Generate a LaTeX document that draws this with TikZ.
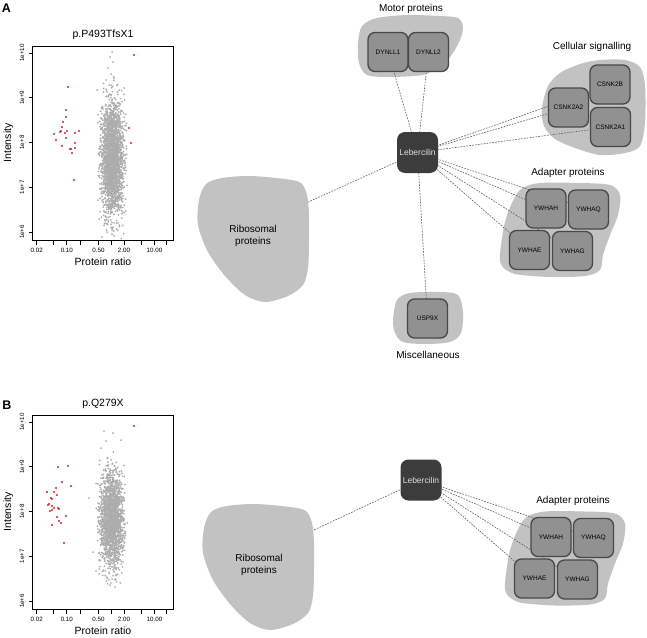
\documentclass[tikz,border=0pt]{standalone}
\usepackage{fontspec}
\setmainfont{Liberation Sans}
\pgfdeclarelayer{blobs}
\pgfdeclarelayer{edges}
\pgfsetlayers{blobs,edges,main}
\definecolor{blobgray}{RGB}{194,194,194}
\definecolor{boxgray}{RGB}{145,145,145}
\definecolor{boxline}{RGB}{72,72,72}
\definecolor{lebgray}{RGB}{60,60,60}
\definecolor{edgegray}{RGB}{95,95,95}
\definecolor{ptgray}{RGB}{172,172,172}
\definecolor{ptred}{RGB}{205,32,45}
\tikzset{
  blob/.style={fill=blobgray},
  pbox/.style={draw=boxline, fill=boxgray, line width=1.3pt, rounded corners=7pt,
    minimum width=40pt, minimum height=39pt, inner sep=0pt, font=\fontsize{6.5}{7}\selectfont},
  lebbox/.style={fill=lebgray, rounded corners=8pt, minimum width=41pt, minimum height=41pt,
    inner sep=0pt, text=white!88!black, font=\fontsize{8.5}{9}\selectfont},
  edge/.style={draw=edgegray, line width=0.6pt, dash pattern=on 1.7pt off 1.2pt},
  grp/.style={font=\fontsize{10}{12}\selectfont, inner sep=0pt},
  riblab/.style={font=\fontsize{10}{12}\selectfont, align=center, inner sep=0pt},
  panlab/.style={font=\bfseries\fontsize{12.5}{14}\selectfont, inner sep=0pt},
  ticklab/.style={font=\fontsize{6.2}{7}\selectfont, inner sep=0pt},
  axtitle/.style={font=\fontsize{10.5}{12}\selectfont, inner sep=0pt},
  axisline/.style={line width=0.8pt, draw=black},
  redpt/.style={fill=ptred},
  graypt/.style={fill=ptgray}
}
\newcommand\plotframe[2]{%
  \draw[axisline] (32.7,46) rectangle (173,240);
  \foreach \v/\lab [count=\k] in {53/1e+10, 97.75/1e+9, 142.5/1e+8, 187.25/1e+7, 232/1e+6}{
    \draw[line width=0.7pt] (28.8,\v) -- (32.7,\v);
    \node[ticklab, rotate=90] (yt#1\k) at (22,\v) {\lab};
  }
  \foreach \xx in {36.7,53.5,66.8,80,98.5,111.2,124,141.5,154.5,166.7}{
    \draw[line width=0.7pt] (\xx,240) -- (\xx,244.5);
  }
  \foreach \xx/\lab [count=\k] in {36.7/0.02, 66.8/0.10, 98.5/0.50, 124/2.00, 154.5/10.00}{
    \node[ticklab] (xt#1\k) at (\xx,250.5) {\lab};
  }
  \node[axtitle] (title#1) at (103,35) {#2};
  \node[axtitle] (xlab#1) at (103,262) {Protein ratio};
  \node[axtitle, rotate=90] (ylab#1) at (8.5,143) {Intensity};
}
\begin{document}
\begin{tikzpicture}[x=1pt,y=-1pt]
\useasboundingbox (0,0) rectangle (647,637);

% ---------- panel letters ----------
\node[panlab] (labA) at (6.5,8) {A};
\node[panlab] (labB) at (7,405) {B};

% ---------- scatter plot A ----------
\begin{scope}
  \clip (33.2,46.5) rectangle (172.5,239.5);
  \pgfmathsetseed{7}
  \foreach \i in {1,...,2400}{
    \pgfmathsetmacro\px{112.5+5.4*(rand+rand+rand)}
    \pgfmathsetmacro\py{158+24*(rand+rand+rand+rand)}
    \fill[graypt] (\px,\py) circle (1.0);
  }
  \foreach \px/\py in {112/52,110/57,113/62,108/68,111/74,106/80,114/78,102/237,107/232,98/200,124/88,97/90}{
    \fill[graypt] (\px,\py) circle (1.0);
  }
\end{scope}
\foreach \px/\py in {134/55,68/87,66/110,66/117,63/122,62/127,54/134,60/132,61/131,65/133,67/131,79/131,75/133,66/138,56/140,62/146,75/143,70/149,71/149,75/148,72/153,74/180,129/128,131/143}{
  \fill[redpt] (\px,\py) circle (1.1);
}
\plotframe{A}{p.P493TfsX1}

% ---------- scatter plot B ----------
\begin{scope}
  \clip (33.2,415.5) rectangle (172.5,608.5);
  \pgfmathsetseed{11}
  \foreach \i in {1,...,2000}{
    \pgfmathsetmacro\px{111.5+5.6*(rand+rand+rand)}
    \pgfmathsetmacro\py{519+20*(rand+rand+rand+rand)}
    \fill[graypt] (\px,\py) circle (1.0);
  }
  \foreach \px/\py in {104/431,113/433,106/441,89/498,93/552,96/571,115/587,110/585,121/440,101/448}{
    \fill[graypt] (\px,\py) circle (1.0);
  }
\end{scope}
\foreach \px/\py in {134/426,58/467,68/466,62/482,71/486,56/488,47/492,54/492,51/498,52/499,57/495,49/504,48/505,52/506,58/508,54/508,59/509,50/511,52/510,57/517,66/516,59/521,61/523,52/525,64/543}{
  \fill[redpt] (\px,\py) circle (1.1);
}
\begin{scope}[shift={(0,369)}]
  \plotframe{B}{p.Q279X}
\end{scope}

% ---------- network A ----------
\begin{pgfonlayer}{blobs}
  % motor proteins
  \fill[blob] plot[smooth cycle] coordinates {(358,43) (362,26) (377,18) (407,15) (440,16) (458,18) (463,27) (460,40) (450,57) (437,68) (423,75) (390,77) (367,75) (359,63)};
  % cellular signalling
  \fill[blob] plot[smooth cycle] coordinates {(542,108) (548,86) (560,73) (580,64) (600,60) (625,60) (640,67) (645,85) (645,122) (640,146) (625,153) (600,155) (575,148) (555,139) (544,126)};
  % adapter proteins
  \fill[blob] plot[smooth cycle] coordinates {(500,255) (504,226) (511,205) (521,189) (540,183) (580,183) (610,185) (620,195) (618,215) (610,235) (603,255) (600,270) (585,276) (550,277) (515,274) (502,266)};
  % miscellaneous
  \fill[blob] plot[smooth cycle] coordinates {(393,320) (397,300) (410,293) (440,292) (458,295) (463,312) (461,333) (450,342) (425,344) (403,342) (395,333)};
  % adapter proteins B
  \begin{scope}[shift={(5,328.5)}]
    \fill[blob] plot[smooth cycle] coordinates {(500,255) (504,226) (511,205) (521,189) (540,183) (580,183) (610,185) (620,195) (618,215) (610,235) (603,255) (600,270) (585,276) (550,277) (515,274) (502,266)};
  \end{scope}
\end{pgfonlayer}

\node[lebbox] (lebA) at (417.5,152.5) {Lebercilin};
\node[pbox] (dynll1) at (388,52) {DYNLL1};
\node[pbox] (dynll2) at (428.5,52) {DYNLL2};
\node[pbox] (csnk2b) at (610,84.5) {CSNK2B};
\node[pbox] (csnk2a2) at (568.5,107.5) {CSNK2A2};
\node[pbox] (csnk2a1) at (610.5,127) {CSNK2A1};
\node[pbox] (ywhahA) at (546,208.5) {YWHAH};
\node[pbox] (ywhaqA) at (588.5,209.5) {YWHAQ};
\node[pbox] (ywhaeA) at (529.5,250) {YWHAE};
\node[pbox] (ywhagA) at (572.5,251) {YWHAG};
\node[pbox] (usp9x) at (427.5,318.5) {USP9X};

\node[grp] (gmotor) at (411,9) {Motor proteins};
\node[grp] (gcell) at (592,47) {Cellular signalling};
\node[grp] (gadaptA) at (568,173) {Adapter proteins};
\node[grp] (gmisc) at (428,355) {Miscellaneous};

% ribosomal A
\fill[blob] plot[smooth cycle] coordinates {(206,184) (222,178) (250,176) (285,179) (301,183) (307,195) (309,215) (309,240) (308,268) (303,285) (288,296) (265,302) (245,295) (225,276) (208,252) (198,225) (199,200)};
\node[riblab] (ribAlab) at (253,236) {Ribosomal\\proteins};
\coordinate (ribA) at (253,227);

\begin{pgfonlayer}{edges}
  \foreach \t in {dynll1,dynll2,csnk2b,csnk2a2,csnk2a1,ywhahA,ywhaqA,ywhaeA,ywhagA,usp9x}
    \draw[edge] (lebA.center) -- (\t.center);
  \draw[edge] (lebA.center) -- (ribA);
\end{pgfonlayer}

% ---------- network B ----------
\node[lebbox] (lebB) at (421,480) {Lebercilin};
\node[pbox] (ywhahB) at (551,537) {YWHAH};
\node[pbox] (ywhaqB) at (593.5,538) {YWHAQ};
\node[pbox] (ywhaeB) at (534.5,578.5) {YWHAE};
\node[pbox] (ywhagB) at (577.5,579.5) {YWHAG};
\node[grp] (gadaptB) at (573,501) {Adapter proteins};

\begin{scope}[shift={(5,328)}]
  \fill[blob] plot[smooth cycle] coordinates {(206,184) (222,178) (250,176) (285,179) (301,183) (307,195) (309,215) (309,240) (308,268) (303,285) (288,296) (265,302) (245,295) (225,276) (208,252) (198,225) (199,200)};
\end{scope}
\node[riblab] (ribBlab) at (259,565) {Ribosomal\\proteins};
\coordinate (ribB) at (258,556);

\begin{pgfonlayer}{edges}
  \foreach \t in {ywhahB,ywhaqB,ywhaeB,ywhagB}
    \draw[edge] (lebB.center) -- (\t.center);
  \draw[edge] (lebB.center) -- (ribB);
\end{pgfonlayer}

\end{tikzpicture}
\end{document}
